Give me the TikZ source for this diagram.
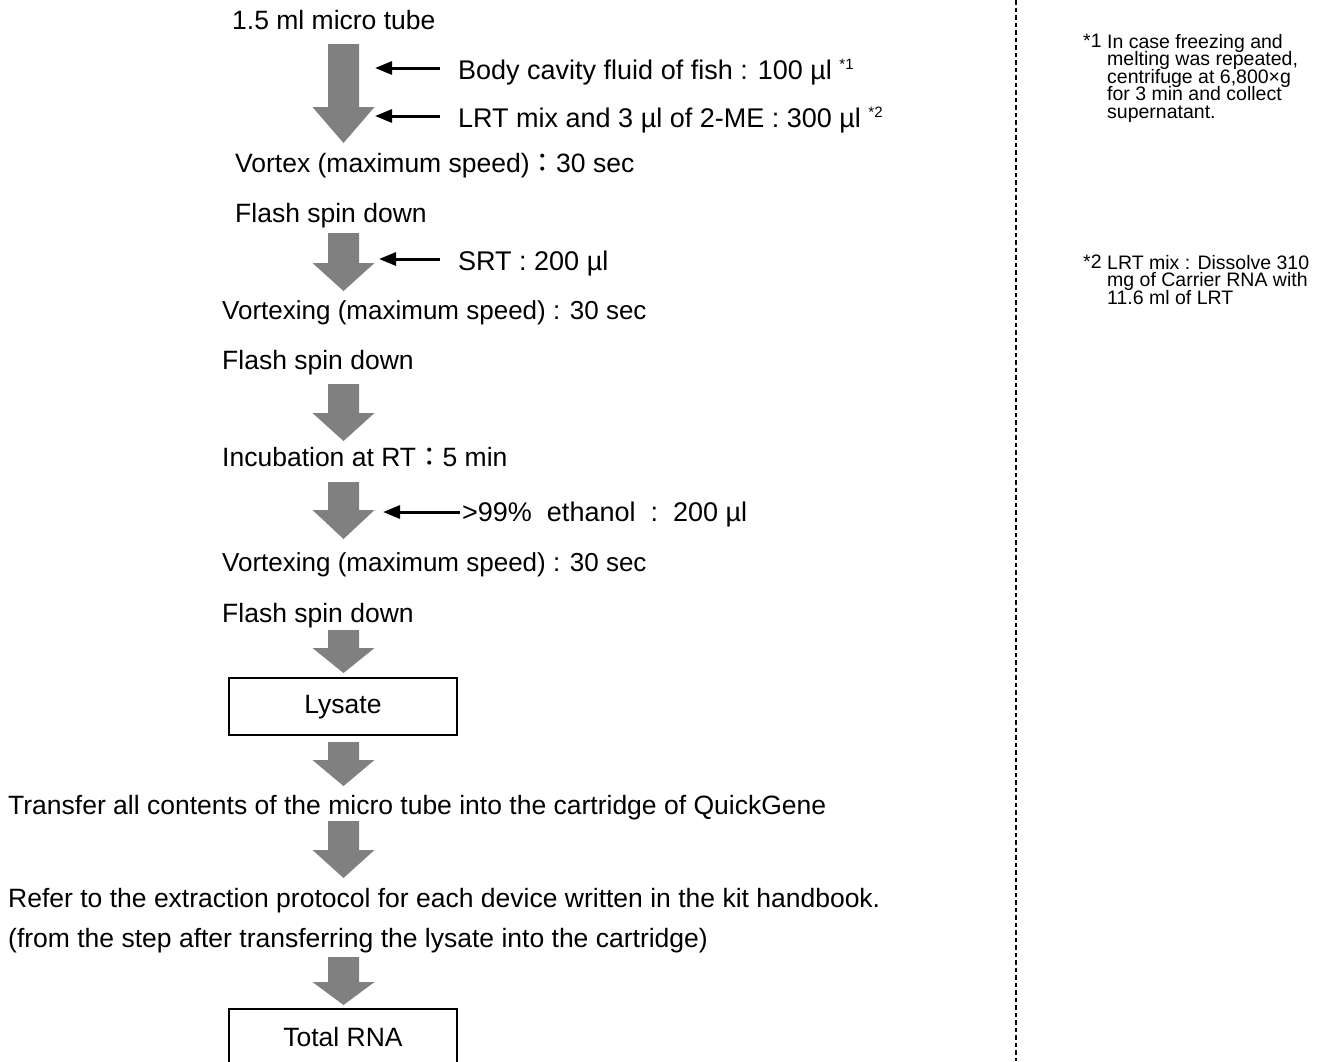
\documentclass[tikz,border=0pt]{standalone}
\usepackage{fontspec}
\setmainfont{Liberation Sans}
\newfontfamily\cjk{Noto Sans CJK JP}
\usetikzlibrary{arrows.meta}
\definecolor{arrowgray}{HTML}{808080}
\newcommand\fwcolon{{\cjk ：}}
\newcommand\fnmark[1]{{\fontsize{15}{15}\selectfont\raisebox{10pt}{*#1}}}
\newcommand\notefont{\fontsize{19.5}{17.5}\selectfont\lineskiplimit-20pt\lineskip0pt\relax}
\newcommand\blockarrow[3]{%
  \fill[arrowgray] (328,#1) -- (359,#1) -- (359,#2) -- (374.5,#2) -- (343.5,#3)
    -- (312.5,#2) -- (328,#2) -- cycle;}
\tikzset{
  steptext/.style={anchor=base west, inner sep=0pt, font=\fontsize{26.5}{30}\selectfont},
  vortextext/.style={steptext, font=\fontsize{26}{30}\selectfont},
  addtext/.style={anchor=base west, inner sep=0pt, font=\fontsize{27}{30}\selectfont},
  notetext/.style={anchor=north west, inner sep=0pt, align=left, font=\notefont},
  resultbox/.style={draw=black, line width=1.5pt, fill=white},
  addarrow/.style={line width=3pt, -{Triangle[length=17pt,width=13pt]}},
  divider/.style={line width=1.2pt, dash pattern=on 4.5pt off 3pt}
}
\begin{document}
\begin{tikzpicture}[x=1pt,y=-1pt]
\clip (0,0) rectangle (1335,1061);
\fill[white] (0,0) rectangle (1335,1061);

% divider
\coordinate (dtop) at (1016,0);
\coordinate (dbot) at (1016,1061);
\draw[divider] (dtop) -- (dbot);

% steps
\node[steptext] (t1) at (232,29.5) {1.5 ml micro tube};
\node[addtext] (s1) at (458,79.5) {Body cavity fluid of fish : 100 µl \fnmark{1}};
\node[addtext] (s2) at (458,127.5) {LRT mix and 3 µl of 2-ME : 300 µl \fnmark{2}};
\node[steptext] (t2) at (235,172.5) {Vortex (maximum speed)\fwcolon 30 sec};
\node[steptext] (t3) at (235,222.5) {Flash spin down};
\node[addtext] (s3) at (458,270.5) {SRT : 200 µl};
\node[vortextext] (t4) at (222,319.5) {Vortexing (maximum speed) : 30 sec};
\node[steptext] (t5) at (222,369.5) {Flash spin down};
\node[steptext] (t6) at (222,466.5) {Incubation at RT\fwcolon 5 min};
\node[addtext] (s4) at (462,521.5) {>99\%\hspace{15pt}ethanol\hspace{15pt}:\hspace{15pt}200 µl};
\node[vortextext] (t7) at (222,571.5) {Vortexing (maximum speed) : 30 sec};
\node[steptext] (t8) at (222,622.5) {Flash spin down};
\draw[resultbox] (229,678) rectangle (457,735);
\node[steptext, anchor=center] (lys) at (343,707) {Lysate};
\node[steptext] (t9) at (8,814.5) {Transfer all contents of the micro tube into the cartridge of QuickGene};
\node[steptext] (t10) at (8,907.5) {Refer to the extraction protocol for each device written in the kit handbook.};
\node[steptext] (t11) at (8,947.5) {(from the step after transferring the lysate into the cartridge)};
\draw[resultbox] (229,1009) rectangle (457,1070);
\node[steptext, anchor=center] (rna) at (343,1037) {Total RNA};

% block arrows
\blockarrow{44}{107}{143}
\blockarrow{233}{263}{291}
\blockarrow{384}{413}{441}
\blockarrow{482}{510}{539}
\blockarrow{630}{648}{673}
\blockarrow{742}{760}{786}
\blockarrow{821}{850}{878}
\blockarrow{957}{982}{1005}

% addition arrows
\coordinate (p1) at (375,68);
\coordinate (p2) at (375,116);
\coordinate (p3) at (379,259);
\coordinate (p4) at (383,512);
\draw[addarrow] (s1.west |- p1) ++(-18,0) -- (p1);
\draw[addarrow] (s2.west |- p2) ++(-18,0) -- (p2);
\draw[addarrow] (s3.west |- p3) ++(-18,0) -- (p3);
\draw[addarrow] (s4.west |- p4) ++(-2,0) -- (p4);

% notes
\node[notetext] (n1) at (1083,34) {*1};
\node[notetext] (n1t) at (1107,34) {In case freezing and\\melting was repeated,\\centrifuge at 6,800×g\\for 3 min and collect\\supernatant.};
\node[notetext] (n2) at (1083,255) {*2};
\node[notetext] (n2t) at (1107,255) {LRT mix : Dissolve 310\\mg of Carrier RNA with\\11.6 ml of LRT};
\end{tikzpicture}
\end{document}
